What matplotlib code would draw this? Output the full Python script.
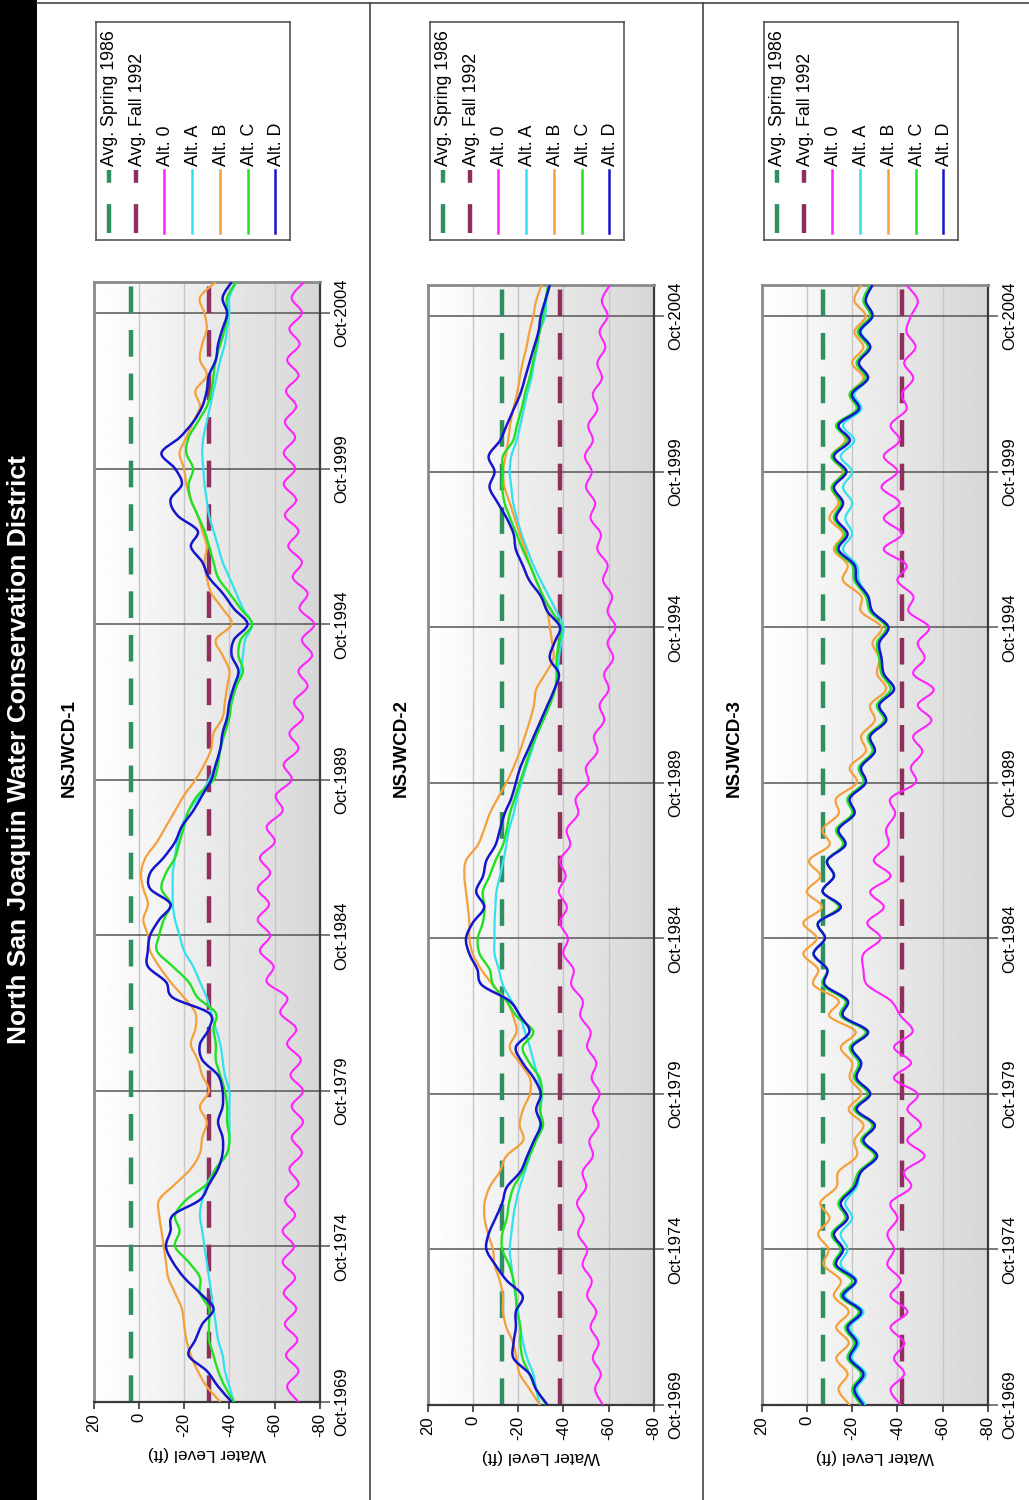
import numpy as np
import matplotlib
matplotlib.use("Agg")
import matplotlib.pyplot as plt
from matplotlib.path import Path
from matplotlib.patches import PathPatch, Rectangle
from matplotlib.lines import Line2D

plt.rcParams['font.family'] = ['Liberation Sans', 'DejaVu Sans']

W, H = 1029, 1500

# ---------------------------------------------------------------------------
# Data: water level (ft) at half-year steps, Oct-1969 ... Oct-2005
# ---------------------------------------------------------------------------
dates = 1969.75 + 0.5 * np.arange(73)
tick_years = [1969.75, 1974.75, 1979.75, 1984.75, 1989.75, 1994.75, 1999.75, 2004.75]
tick_labels = ["Oct-1969", "Oct-1974", "Oct-1979", "Oct-1984",
               "Oct-1989", "Oct-1994", "Oct-1999", "Oct-2004"]
level_ticks = [20, 0, -20, -40, -60, -80]
level_labels = ["20", "0", "-20", "-40", "-60", "-80"]

series_names = ["Avg. Spring 1986", "Avg. Fall 1992", "Alt. 0", "Alt. A", "Alt. B", "Alt. C", "Alt. D"]

# NSJWCD-1
w1_spring = 3.5
w1_fall = -31.0
w1_alt0 = [-70.5, -65.5, -70.5, -65, -70, -64.5, -69.5, -64, -69, -63.5,
           -68.5, -63.5, -69, -64.5, -70.5, -66.5, -72, -67.5, -72.5, -67.5,
           -72.5, -67, -71.5, -65.5, -69.5, -62.5, -65.5, -56.5, -59.5, -53.5,
           -58, -52.5, -57.5, -52.5, -58, -53.5, -60, -56.5, -63.5, -60.5,
           -67.5, -64, -70.5, -66.5, -72.5, -68.5, -74.5, -70.5, -76.5, -72,
           -77.5, -71, -74.5, -68, -72, -66, -70.5, -64.5, -69.5, -64,
           -69, -64, -69, -64.5, -69.5, -65, -70.5, -65.5, -71, -66.5,
           -72, -67.5, -73]
w1_altA = [-42, -40, -38, -37, -35, -34, -33, -32, -31, -30,
           -29, -28, -27, -28, -30, -34, -39, -40, -40, -40,
           -40, -38, -37, -36, -34, -32, -30, -27, -24, -20,
           -18, -16, -15, -15, -15, -16, -17, -19, -22, -27,
           -31, -34, -36, -37, -39, -41, -43, -45, -46, -47,
           -50, -46, -43, -40, -37, -35, -33, -31, -30, -29,
           -28.5, -28, -28.5, -30, -31.5, -33, -34.5, -36, -38, -39,
           -40, -40, -43]
w1_altB = [-36, -30, -26, -23, -21, -20, -19, -16, -13, -12,
           -11, -10, -9, -9, -16, -23, -27, -28, -30, -27,
           -31, -28, -26, -23, -25, -25, -20, -14, -9, -5,
           -4, -2, -4, -2, -1, -3, -8, -12, -16, -20,
           -25, -29, -32, -33, -37, -38, -39, -40, -37, -34,
           -41, -37, -32, -30, -29, -30, -28, -26, -23, -21,
           -20, -18, -21, -24, -27, -25, -30, -27, -28, -30,
           -29, -27, -34]
w1_altC = [-42, -38, -35, -33, -31, -31, -31, -27, -27, -22,
           -16, -18, -16, -21, -30, -34, -39, -40, -39, -39,
           -38, -36, -34, -34, -33, -34, -26, -22, -15, -8,
           -9, -11, -14, -10, -12, -16, -18, -20, -22, -26,
           -33, -35, -36, -38, -40, -41, -43, -46, -44, -45,
           -50, -45, -40, -35, -33, -31, -29, -26, -23, -22,
           -24, -21, -22, -26, -30, -32, -33, -34, -36, -38,
           -39, -39, -43]
w1_altD = [-41, -35, -30, -22, -25, -28, -33, -27, -20, -15,
           -12, -14, -15, -27, -31, -35, -37, -37, -35, -37,
           -37, -35, -28, -27, -31, -31, -15, -12, -4, -4,
           -5, -9, -14, -5, -5, -11, -16, -19, -24, -28,
           -32, -34, -36, -37, -39, -40, -42, -44, -41, -42,
           -48, -42, -37, -31, -28, -23, -26, -17, -14, -19,
           -16, -10, -18, -24, -28, -30, -31, -34, -35, -37,
           -39, -37, -41]

# NSJWCD-2
w2_spring = -13.0
w2_fall = -38.5
w2_alt0 = [-57.5, -54, -56.5, -53, -55.5, -52, -54.5, -50.5, -52.5, -48.5,
           -50.5, -46.5, -49, -46, -50, -48.5, -53, -51.5, -55.5, -53,
           -56, -52.5, -54.5, -50.5, -52, -47.5, -48.5, -43.5, -44.5, -40,
           -42, -38.5, -41.5, -38, -41, -38.5, -43, -41.5, -46.5, -45.5,
           -51, -50, -55, -53.5, -58, -56, -60, -58, -62, -59.5,
           -63, -59.5, -61.5, -57.5, -59.5, -55, -56.5, -52, -54, -50,
           -52.5, -49.5, -53, -51, -55, -53, -57, -55, -58.5, -56,
           -59.5, -57, -60.5]
w2_altA = [-29.6, -28, -26.7, -24, -22.2, -21, -20, -19, -17.8, -17,
           -16.3, -17, -17.8, -19, -20.7, -23, -25.2, -27.5, -29.6, -30,
           -30.4, -28.9, -27, -25.2, -23, -20.7, -17, -13.3, -11.5, -9.6,
           -9.6, -9.6, -10, -10.4, -12, -13.5, -14.8, -16, -18, -19.5,
           -21.5, -23.5, -25.9, -28, -31, -33.5, -36.3, -37.5, -38, -39,
           -40, -37, -33.5, -30, -26.7, -24, -21.5, -19.5, -17.8, -17,
           -16.3, -17, -19.3, -21, -22.5, -24, -25.9, -27, -28.5, -29.5,
           -31.9, -32.5, -34]
w2_altB = [-29.6, -25.2, -20.7, -19.3, -17.8, -14.8, -13.3, -13.3, -11.9, -9.6,
           -8.9, -6.7, -5.2, -5.2, -7.4, -11.9, -14.8, -22.2, -20.7, -22.2,
           -25.2, -25.2, -20.7, -16.3, -19.3, -17.8, -14.8, -8.9, -3.7, 0,
           1.5, 1.5, 2.2, 3, 3.7, 3, -2.2, -5, -7.4, -11,
           -14.8, -18, -20.7, -23, -25.2, -27, -28, -32, -35.6, -35,
           -34, -33, -31, -28, -25.2, -23, -20.7, -18.5, -16.3, -14,
           -13.3, -14.5, -15.6, -16.5, -17.8, -19.5, -20.7, -22, -23.7, -25,
           -26.7, -28, -30.4]
w2_altC = [-32.6, -28, -25, -22, -21, -21, -19.5, -19, -18, -16,
           -13, -13, -15, -16, -18, -22, -25, -28, -31, -29.6,
           -30.4, -29.6, -25, -22, -26.7, -19.3, -14.8, -9, -7.4, -3,
           -2.2, -4.4, -5.2, -4.4, -7.4, -10, -13.3, -15, -16.3, -18.5,
           -20.7, -23, -25.2, -28, -31, -34, -36.3, -37, -37, -38,
           -39, -35, -31, -28, -25.2, -22, -19.3, -16.5, -14, -13,
           -13.3, -13.3, -17.8, -19.5, -21.5, -23, -25, -26.5, -28, -29.5,
           -31, -32, -33.3]
w2_altD = [-33, -28, -25, -18, -18, -19, -19, -22, -15, -10,
           -6, -7, -10, -13, -15, -21, -24, -27, -30, -28,
           -30, -27, -22, -19, -25, -21, -16, -4, -2, 1.5,
           3, 0, -5, -1.5, -4.5, -6, -10, -12, -14, -17,
           -19, -21, -24, -27, -30, -33, -36, -38, -34, -36,
           -38.5, -33, -30, -25, -22, -19, -18, -15, -11, -7.4,
           -9.6, -7, -12, -15, -18, -21, -23, -25, -27, -29,
           -30, -32, -34]

# NSJWCD-3
w3_spring = -7.0
w3_fall = -42.0
w3_alt0 = [-41.5, -37, -43, -38.5, -43, -37, -44.4, -37, -41.5, -35.6,
           -38.5, -35.6, -40, -37, -46, -43, -52, -44.4, -50.4, -44.4,
           -49, -38.5, -46, -38.5, -46.7, -41.5, -37, -26.7, -25, -25,
           -32.6, -26.7, -34, -28, -37, -29.6, -36, -35, -39, -37,
           -48, -46, -51, -47, -55, -49, -56, -47, -52, -49,
           -54, -45, -47, -40, -44, -34, -42, -34, -41, -33,
           -40, -34, -41, -37, -44, -42, -47, -43, -48, -44,
           -46, -49, -44]
w3_altA = [-26, -22, -26, -20, -23, -19, -25, -17, -22, -15,
           -18, -15, -20, -17, -22, -24, -31, -25, -30, -22,
           -28, -22, -24, -20, -27, -16, -18, -8, -9, -3,
           -8, -5, -15, -7, -12, -9, -17, -14, -21, -19,
           -26, -24, -30, -28, -35, -32, -38.5, -34, -33, -32,
           -36, -29, -27, -23, -22, -16, -20, -17, -20, -16,
           -20, -15, -21, -16, -24, -21, -27, -23, -28, -24,
           -29, -26, -29]
w3_altB = [-19, -14, -18, -13, -18.5, -13, -18.5, -12, -15, -7.5,
           -9.6, -5, -10, -6, -13, -14, -22, -21, -25, -18.5,
           -24, -19, -20, -15, -21.5, -10, -14, -3, -5, 1.5,
           -4.4, 1.5, -6.7, 0, -6, -1, -10, -7, -14, -13,
           -22, -19, -26, -24, -30, -28, -35, -31, -32, -29,
           -33, -24, -24, -16, -18, -12, -16, -10, -14, -11,
           -16, -11, -17, -14, -22, -19, -25, -20, -25, -21,
           -26, -21, -24]
w3_altC = [-24, -20, -24, -18, -21, -17, -23, -15, -20, -12,
           -15, -11, -17, -14, -20, -23, -30, -24, -29, -21,
           -27, -21, -23, -19, -26, -15, -17, -7, -9, -3,
           -8, -5, -14, -7, -12, -9, -16, -13, -20, -18,
           -25, -23, -29, -27, -34, -31, -37, -33, -32, -31,
           -35, -28, -26, -21, -20, -13, -17, -12, -15, -11,
           -16.5, -11, -18, -13, -22, -19, -26, -22, -27, -22.5,
           -28, -25, -28]
w3_altD = [-25, -21, -25, -19, -22, -18, -24, -16, -21.5, -13,
           -16, -12, -18, -15, -21, -24, -31, -25, -30, -22,
           -28, -22, -24, -20, -27, -16, -18, -8, -9, -3,
           -8, -5, -15, -7, -12, -9, -17, -14, -21, -19,
           -26, -24, -30, -28, -35, -32, -38.5, -34, -33, -32,
           -36, -29, -27, -22, -21, -14, -18, -13, -16, -12,
           -17.5, -12, -19, -14, -23, -20, -27, -23, -28, -23.5,
           -29, -26, -29]

# ---------------------------------------------------------------------------
# Styles
# ---------------------------------------------------------------------------
C_SPRING = "#2F8F5F"
C_FALL = "#8E2F5E"
ALT_STYLE = {
    "Alt. 0": ("#FF22FF", 1.5),
    "Alt. A": ("#33E0EE", 1.6),
    "Alt. B": ("#F5A03A", 1.6),
    "Alt. C": ("#22E022", 1.7),
    "Alt. D": ("#1515CC", 1.8),
}
AVG_DASH = (6.0, 3.8)
AVG_LW = 3.2
TICK_FS = 12

T0, T1 = 1969.75, 2005.75


def smooth_path(xs, ys):
    """Cubic Bezier path through the points (smoothed polyline)."""
    pts = np.column_stack([np.asarray(xs, float), np.asarray(ys, float)])
    n = len(pts)
    verts = [pts[0]]
    codes = [Path.MOVETO]
    for i in range(n - 1):
        p0 = pts[max(i - 1, 0)]
        p1 = pts[i]
        p2 = pts[i + 1]
        p3 = pts[min(i + 2, n - 1)]
        verts += [p1 + (p2 - p0) / 6.0, p2 - (p3 - p1) / 6.0, p2]
        codes += [Path.CURVE4] * 3
    return Path(verts, codes)


fig = plt.figure(figsize=(W / 100, H / 100), dpi=100)

# black side band with the district name
fig.patches.append(Rectangle((0, 0), 37 / W, 1, transform=fig.transFigure,
                             facecolor="black", edgecolor="none", zorder=0))
fig.text(19 / W, 1 - 750 / H, "North San Joaquin Water Conservation District",
         rotation=90, color="white", fontsize=19, fontweight="bold",
         ha="center", va="center")

# frame lines between the three panels
fig.add_artist(Line2D([37 / W, 1], [1 - 3 / H, 1 - 3 / H], transform=fig.transFigure,
                      color="#444444", lw=1.2))
for xp in (370, 703):
    fig.add_artist(Line2D([xp / W, xp / W], [0, 1 - 3 / H], transform=fig.transFigure,
                          color="#444444", lw=1.2))


def draw_panel(left, right, top, bottom, title, title_x, spring, fall, alts):
    ax = fig.add_axes([left / W, 1 - bottom / H, (right - left) / W, (bottom - top) / H])
    grad = np.linspace(1.0, 0.84, 256).reshape(1, -1)
    ax.imshow(grad, extent=[20, -80, T0, T1], aspect="auto", cmap="gray",
              vmin=0, vmax=1, zorder=0, interpolation="bilinear")
    ax.set_xlim(20, -80)
    ax.set_ylim(T0, T1)

    for v in level_ticks[1:-1]:
        ax.axvline(v, color="#c6c6c6", lw=1.0, zorder=1)
    for t in tick_years:
        ax.axhline(t, color="#555555", lw=1.1, zorder=1)

    ax.plot(np.full(len(dates), spring), dates, color=C_SPRING, lw=AVG_LW,
            dashes=AVG_DASH, zorder=2, solid_capstyle="butt")
    ax.plot(np.full(len(dates), fall), dates, color=C_FALL, lw=AVG_LW,
            dashes=AVG_DASH, zorder=2, solid_capstyle="butt")

    for name, vals in alts:
        color, lw = ALT_STYLE[name]
        ax.add_patch(PathPatch(smooth_path(vals, dates), fill=False,
                               edgecolor=color, lw=lw, zorder=3,
                               transform=ax.transData))

    ax.set_xticks(level_ticks)
    ax.set_xticklabels(level_labels, rotation=90, fontsize=TICK_FS)
    ax.tick_params(axis="x", direction="out", length=5, width=1.2,
                   color="#333333", pad=3)
    ax.yaxis.tick_right()
    ax.set_yticks(tick_years)
    ax.set_yticklabels(tick_labels, rotation=90, va="center", fontsize=TICK_FS)
    ax.tick_params(axis="y", direction="out", length=7, width=1.1,
                   color="#555555", pad=3)
    ax.set_xlabel("Water Level (ft)", rotation=180, fontsize=12.5, labelpad=6)

    for side in ("left", "top"):
        ax.spines[side].set_color("#8a8a8a")
        ax.spines[side].set_linewidth(2.0)
    for side in ("bottom", "right"):
        ax.spines[side].set_color("#3a3a3a")
        ax.spines[side].set_linewidth(1.6)

    fig.text(title_x / W, 1 - 748 / H, title, rotation=90, fontsize=13.5,
             fontweight="bold", ha="center", va="center")

    # legend box
    lax = fig.add_axes([(left + 2) / W, 1 - 240 / H, 194 / W, 218 / H])
    lax.set_xlim(0, 194)
    lax.set_ylim(0, 218)
    lax.set_xticks([])
    lax.set_yticks([])
    for s in lax.spines.values():
        s.set_color("#555555")
        s.set_linewidth(1.2)
    entries = [(series_names[0], C_SPRING, True), (series_names[1], C_FALL, True)]
    entries += [(n, ALT_STYLE[n][0], False) for n in series_names[2:]]
    for i, (name, color, dashed) in enumerate(entries):
        x = 13 + 27.8 * i
        if dashed:
            lax.plot([x, x], [7, 70], color=color, lw=AVG_LW, dashes=(6.5, 4.8),
                     solid_capstyle="butt")
        else:
            lax.plot([x, x], [7, 70], color=color, lw=1.8)
        lax.text(x + 1.5, 74, name, rotation=90, ha="center", va="bottom",
                 fontsize=12.8)
    return ax


draw_panel(93.5, 320, 282, 1402, "NSJWCD-1", 69, w1_spring, w1_fall,
           [("Alt. 0", w1_alt0), ("Alt. A", w1_altA), ("Alt. B", w1_altB),
            ("Alt. C", w1_altC), ("Alt. D", w1_altD)])
draw_panel(427.5, 654, 285, 1405, "NSJWCD-2", 401, w2_spring, w2_fall,
           [("Alt. 0", w2_alt0), ("Alt. A", w2_altA), ("Alt. B", w2_altB),
            ("Alt. C", w2_altC), ("Alt. D", w2_altD)])
draw_panel(761.5, 988, 285, 1405, "NSJWCD-3", 734, w3_spring, w3_fall,
           [("Alt. 0", w3_alt0), ("Alt. A", w3_altA), ("Alt. B", w3_altB),
            ("Alt. C", w3_altC), ("Alt. D", w3_altD)])

fig.savefig("out.png", dpi=100, facecolor="white")
